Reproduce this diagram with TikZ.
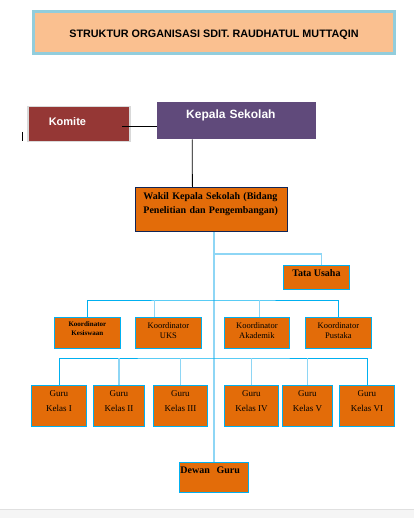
\documentclass[tikz,border=0pt]{standalone}
\usepackage{fontspec}
\setmainfont{Liberation Serif}
\setsansfont{Liberation Sans}
\usetikzlibrary{positioning}
\definecolor{sditPeach}{RGB}{250, 192, 144}
\definecolor{sditLightBlue}{RGB}{146, 205, 220}
\definecolor{sditRed}{RGB}{149, 55, 53}
\definecolor{sditPurple}{RGB}{96, 74, 123}
\definecolor{sditOrange}{RGB}{227, 108, 9}
\definecolor{sditNavy}{RGB}{16, 37, 86}
\definecolor{sditCyan}{RGB}{0, 176, 240}
\definecolor{sditSky}{RGB}{142, 214, 245}
\definecolor{sditStrip}{RGB}{245, 245, 245}

\begin{document}
\begin{tikzpicture}[
  x=1pt, y=-1pt,
  unit/.style={
    draw=sditCyan,
    fill=sditOrange,
    line width=0.8pt,
    inner sep=0pt,
    anchor=north west,
    align=center
  },
  koord/.style={unit,minimum width=66pt,text height=21pt,text depth=10pt,
    font=\fontsize{8.5}{10}\selectfont},
  guru/.style={unit,text height=26pt,text depth=15pt,
    font=\fontsize{9}{15}\selectfont},
  busline/.style={sditCyan,line width=0.8pt},
  trunkline/.style={sditSky,line width=1.6pt}
]
  \useasboundingbox (0,0) rectangle (414,518);
  \fill[sditStrip] (0,509) rectangle (414,518);
  \draw[black!12] (0,509) -- (414,509);

  % judul
  \node[draw=sditLightBlue,fill=sditPeach,line width=3pt,inner sep=0pt,anchor=north west,
    minimum width=361pt,text height=26.5pt,text depth=15.5pt,
    font=\sffamily\bfseries\fontsize{10.8}{12}\selectfont] (judul) at (32,10)
    {STRUKTUR ORGANISASI SDIT. RAUDHATUL MUTTAQIN};

  % pimpinan
  \node[draw=black!15,fill=sditRed,line width=1.5pt,inner ysep=0pt,inner xsep=21pt,anchor=north west,
    text width=60pt,align=left,text height=18.5pt,text depth=16.5pt,text=white,
    font=\sffamily\bfseries\fontsize{11}{13}\selectfont] (komite) at (27,106) {Komite};
  \node[fill=sditPurple,inner ysep=0pt,inner xsep=29pt,anchor=north west,
    text width=101pt,align=left,text height=16pt,text depth=21pt,text=white,
    font=\sffamily\bfseries\fontsize{12}{14}\selectfont] (kepala) at (157,102) {Kepala Sekolah};
  \node[unit,draw=sditNavy,inner xsep=8pt,text width=136pt,align=left,
    text height=12pt,text depth=32pt,
    font=\bfseries\fontsize{10}{14}\selectfont] (wakil) at (135,187)
    {Wakil Kepala Sekolah (Bidang\\Penelitian dan Pengembangan)};
  \node[unit,minimum width=66pt,text height=11.5pt,text depth=12.5pt,
    font=\bfseries\fontsize{10}{12}\selectfont] (tata) at (283,265) {Tata Usaha};

  % koordinator
  \node[koord,text height=18.5pt,text depth=12.5pt,
    font=\bfseries\fontsize{7}{9}\selectfont] (kesiswaan) at (54,317) {Koordinator\\Kesiswaan};
  \node[koord] (uks) at (135,317) {Koordinator\\UKS};
  \node[koord,minimum width=65pt] (akademik) at (224,317) {Koordinator\\Akademik};
  \node[koord] (pustaka) at (305,317) {Koordinator\\Pustaka};

  % guru kelas
  \node[guru,minimum width=55pt] (kelasI) at (31,385) {Guru\\Kelas I};
  \node[guru,minimum width=51pt] (kelasII) at (93,385) {Guru\\Kelas II};
  \node[guru,minimum width=54pt] (kelasIII) at (153,385) {Guru\\Kelas III};
  \node[guru,minimum width=54pt] (kelasIV) at (224,385) {Guru\\Kelas IV};
  \node[guru,minimum width=50pt] (kelasV) at (282,385) {Guru\\Kelas V};
  \node[guru,minimum width=55pt] (kelasVI) at (339,385) {Guru\\Kelas VI};

  \node[unit,inner xsep=1pt,text width=67pt,align=left,text height=11.5pt,text depth=18.5pt,
    font=\bfseries\fontsize{10}{12}\selectfont] (dewan) at (179,462) {Dewan\ \ Guru};

  % garis
  \coordinate (kk) at (122,126);
  \draw[line width=0.8pt] (kk) -- (kk -| kepala.west);
  \draw[line width=0.8pt] ([xshift=-44.5pt]kepala.south) -- ([xshift=-19pt]wakil.north);
  \draw[line width=0.8pt] (22,132) -- (22,141);

  \draw[trunkline] (dewan.north |- wakil.south) -- (dewan.north);
  \coordinate (tbus) at (214,254);
  \draw[trunkline] (tbus) -| ([xshift=5pt]tata.north);

  \coordinate (kbus) at (214,300);
  \draw[busline] (kesiswaan.north) |- (kbus) -| (pustaka.north);
  \draw[trunkline] ([xshift=-14pt]uks.north) -- ([xshift=-14pt]uks.north |- kbus);
  \draw[trunkline] ([xshift=2.5pt]akademik.north) -- ([xshift=2.5pt]akademik.north |- kbus);

  \coordinate (gbus) at (214,358);
  \draw[busline] (kelasI.north) |- (gbus) -| (kelasVI.north);
  \foreach \k in {kelasII,kelasIII,kelasIV,kelasV}
    \draw[trunkline] (\k.north) -- (\k.north |- gbus);
\end{tikzpicture}
\end{document}
